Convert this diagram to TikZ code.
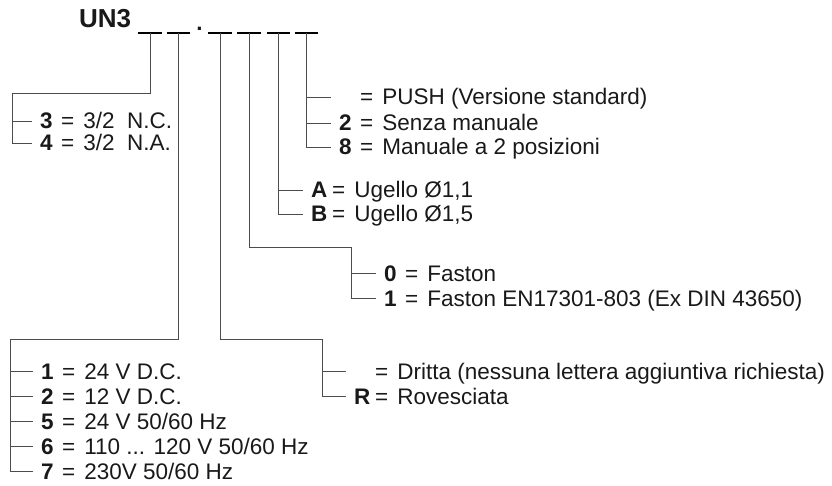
\documentclass[tikz,border=0pt]{standalone}
\usepackage{fontspec}
\setmainfont{Liberation Sans}
\usetikzlibrary{positioning, calc}
\newcommand{\opt}[2]{\makebox[14pt][l]{\bfseries #1}\hspace{7pt}=\hspace{9pt}#2}

\begin{document}
\begin{tikzpicture}[x=1pt, y=-1pt,
    every node/.style={font=\fontsize{22.5}{27}\selectfont, text=black!90},
    item/.style={anchor=west, inner xsep=8pt, inner ysep=0pt, text height=16pt, text depth=0pt},
    tree/.style={black!70, line width=0.9pt},
    slot/.style={black, line width=1.6pt}]
    \useasboundingbox (0,0) rectangle (832,486);

    % Code and the six slots
    \node[font=\fontsize{26}{30}\selectfont\bfseries, anchor=base west, inner sep=0pt] (code) at (79,28) {UN3};
    \node[font=\fontsize{22.5}{27}\selectfont\bfseries, anchor=base, inner sep=0pt] (dot) at (199.5,31) {.};
    \foreach \a/\b in {138/162, 167/190, 208/232, 237/261, 267/290, 295/318}
        \draw[slot] (\a,33) -- (\b,33);
    \coordinate (s1) at (150,33);
    \coordinate (s2) at (178.5,33);
    \coordinate (s3) at (220,33);
    \coordinate (s4) at (249.5,33);
    \coordinate (s5) at (278.5,33);
    \coordinate (s6) at (306.5,33);

    % Junctions where the trunks turn
    \coordinate (j1) at (12,93);
    \coordinate (j2) at (10,339);
    \coordinate (j3) at (322,339);
    \coordinate (j4) at (351,247);

    % Slot 1: function
    \node[item] (f3) at (32,121) {\opt{3}{3/2\ \ N.C.}};
    \node[item] (f4) at (32,143) {\opt{4}{3/2\ \ N.A.}};
    % Slot 2: voltage
    \node[item] (v1) at (33,371) {\opt{1}{24 V D.C.}};
    \node[item] (v2) at (33,396) {\opt{2}{12 V D.C.}};
    \node[item] (v5) at (33,421) {\opt{5}{24 V 50/60 Hz}};
    \node[item] (v6) at (33,446) {\opt{6}{110 ... 120 V 50/60 Hz}};
    \node[item] (v7) at (33,471) {\opt{7}{230V 50/60 Hz}};
    % Slot 3: mounting
    \node[item] (m0) at (346,371) {\opt{}{Dritta (nessuna lettera aggiuntiva richiesta)}};
    \node[item] (mR) at (346,396) {\opt{R}{Rovesciata}};
    % Slot 4: connection
    \node[item] (c0) at (376,273) {\opt{0}{Faston}};
    \node[item] (c1) at (376,298) {\opt{1}{Faston EN17301-803 (Ex DIN 43650)}};
    % Slot 5: nozzle
    \node[item] (nA) at (303,190) {\opt{A}{Ugello Ø1,1}};
    \node[item] (nB) at (303,214) {\opt{B}{Ugello Ø1,5}};
    % Slot 6: manual override
    \node[item] (oP) at (331,97) {\opt{}{PUSH (Versione standard)}};
    \node[item] (o2) at (331,123) {\opt{2}{Senza manuale}};
    \node[item] (o8) at (331,147) {\opt{8}{Manuale a 2 posizioni}};

    % Trunks and ticks
    \draw[tree] (s1) |- (j1) |- (f4.west);
    \draw[tree] (j1 |- f3.west) -- (f3.west);
    \draw[tree] (s2) |- (j2) |- (v7.west);
    \foreach \n in {v1, v2, v5, v6}
        \draw[tree] (j2 |- \n.west) -- (\n.west);
    \draw[tree] (s3) |- (j3) |- (mR.west);
    \draw[tree] (j3 |- m0.west) -- (m0.west);
    \draw[tree] (s4) |- (j4) |- (c1.west);
    \draw[tree] (j4 |- c0.west) -- (c0.west);
    \draw[tree] (s5) |- (nB.west);
    \draw[tree] (s5 |- nA.west) -- (nA.west);
    \draw[tree] (s6) |- (o8.west);
    \foreach \n in {oP, o2}
        \draw[tree] (s6 |- \n.west) -- (\n.west);
\end{tikzpicture}
\end{document}
